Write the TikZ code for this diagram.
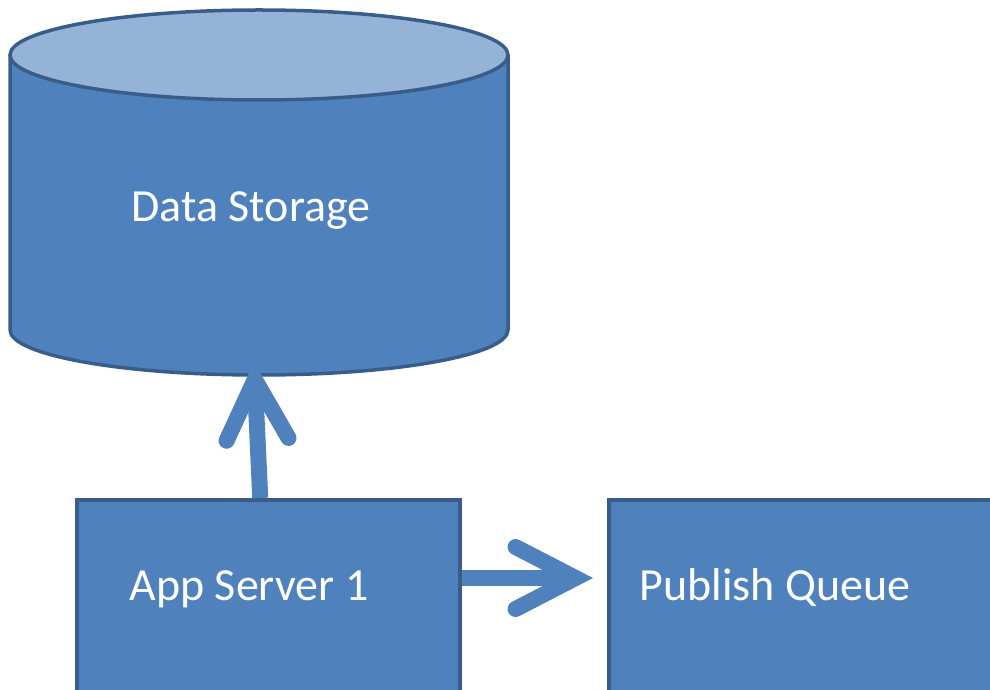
\documentclass[tikz,border=0pt]{standalone}
\usepackage{fontspec}
\setmainfont{Carlito}
\usetikzlibrary{arrows.meta}
\definecolor{boxfill}{HTML}{4F81BD}
\definecolor{boxline}{HTML}{385D8A}
\definecolor{toplight}{HTML}{95B3D7}
\tikzset{
  box/.style={draw=boxline, fill=boxfill, line width=3.5pt, inner sep=0pt},
  lbl/.style={text=white, font=\fontsize{46}{50}\selectfont, inner sep=0pt, anchor=base},
  flow/.style={draw=boxfill, line width=16pt,
    -{Straight Barb[length=60pt, width=62pt, line cap=round, line join=miter]}}
}
\begin{document}
\begin{tikzpicture}[x=1pt, y=1pt]
  \useasboundingbox (0,0) rectangle (990,689);
  \clip (0,0) rectangle (990,689);
  % cylinder body
  \draw[box] (10,634) -- (10,359)
    arc[start angle=180, end angle=360, x radius=249pt, y radius=45pt]
    -- (508,634);
  % cylinder lid
  \draw[draw=boxline, fill=toplight, line width=3.5pt]
    (259,634) ellipse [x radius=249pt, y radius=45pt];
  \coordinate (dsbottom) at (254,327);
  \node[lbl] (ds) at (251,467) {Data Storage};
  % boxes
  \node[box, minimum width=383pt, minimum height=220pt, anchor=north west]
    (app) at (75,191) {};
  \node[box, minimum width=400pt, minimum height=220pt, anchor=north west]
    (pq) at (607,191) {};
  \node[lbl] (apptext) at (249,89) {App Server 1};
  \node[lbl] (pqtext) at (775,89) {Publish Queue};
  % connectors
  \draw[flow] ([xshift=-8pt]app.north) -- (dsbottom);
  \coordinate (pqin) at (593,111);
  \draw[flow] (app.east |- pqin) -- (pqin);
\end{tikzpicture}
\end{document}
